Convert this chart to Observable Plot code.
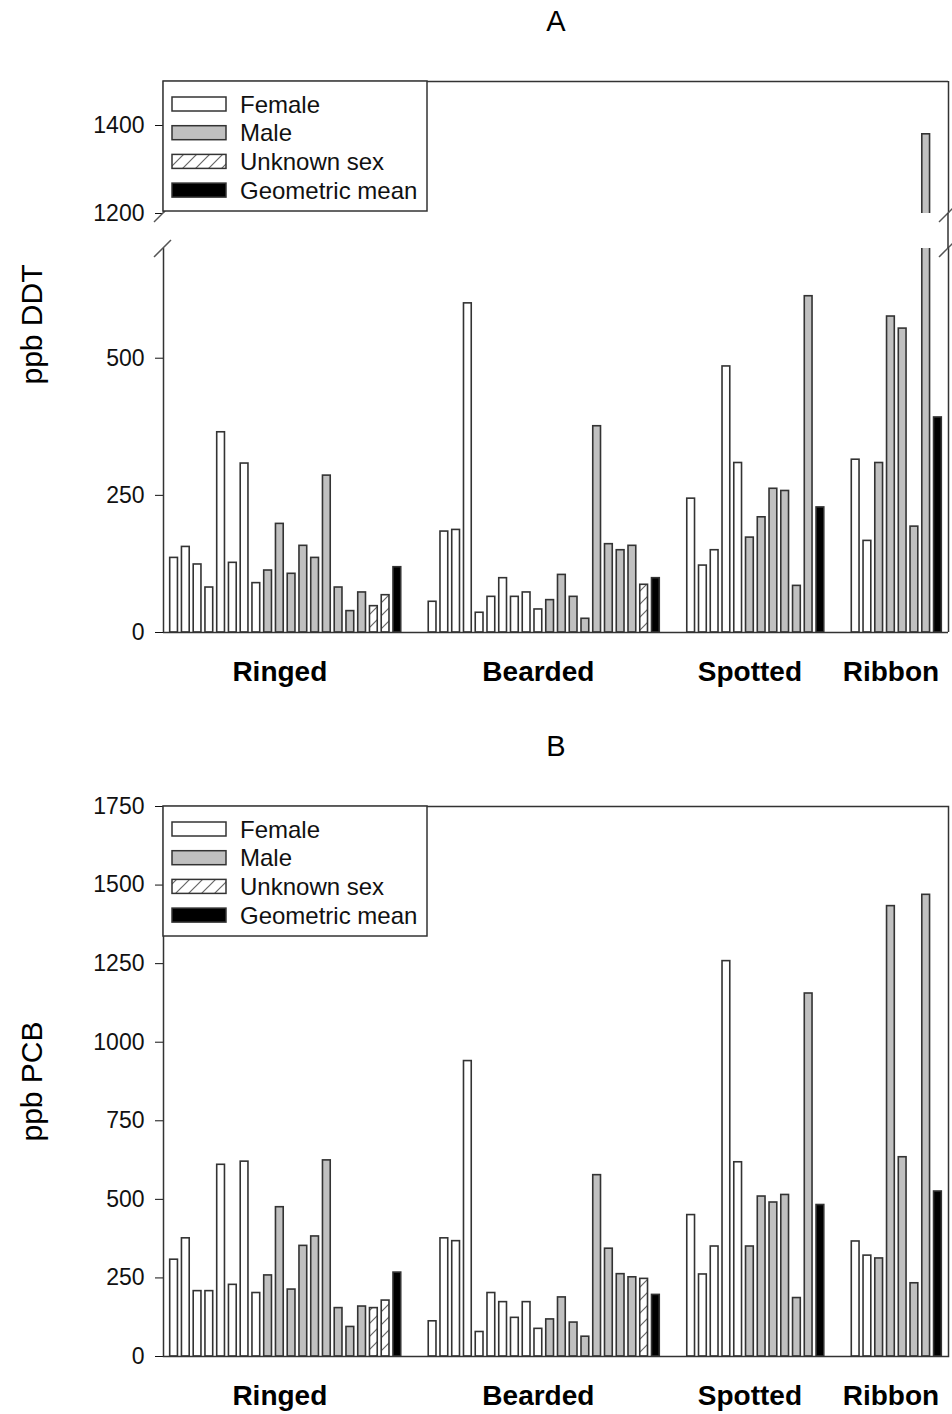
<!DOCTYPE html>
<html>
<head>
<meta charset="utf-8">
<script src="https://cdn.jsdelivr.net/npm/d3@7"></script>
<script src="https://cdn.jsdelivr.net/npm/@observablehq/plot@0.6"></script>
<style>
html, body { margin: 0; padding: 0; background: #fff; overflow: hidden; }
#chart svg { display: block; }
</style>
</head>
<body>
<div id="chart"></div>
<script>
// ---------------- data ----------------
const species = ["Ringed", "Bearded", "Spotted", "Ribbon"];

// sex codes: F = female, M = male, U = unknown sex, G = geometric mean
const sexRinged  = ["F","F","F","F","F","F","F","F","M","M","M","M","M","M","M","M","M","U","U","G"];
const sexBearded = ["F","F","F","F","F","F","F","F","F","F","M","M","M","M","M","M","M","M","U","G"];
const sexSpotted = ["F","F","F","F","F","M","M","M","M","M","M","G"];
const sexRibbon  = ["F","F","M","M","M","M","M","G"];

const ddtRinged  = [136,156,124,82,365,127,308,90,113,198,107,158,136,286,82,39,73,48,68,119];
const ddtBearded = [56,184,187,600,36,65,99,65,73,42,59,105,65,25,376,161,150,158,87,99];
const ddtSpotted = [244,122,150,485,309,173,210,262,258,85,613,228];
const ddtRibbon  = [315,167,309,576,554,193,1380,392];

const pcbRinged  = [308,376,208,208,610,228,620,202,258,475,213,352,382,624,154,94,159,154,178,267];
const pcbBearded = [112,376,367,940,78,202,173,123,173,88,118,188,108,63,577,343,262,252,247,196];
const pcbSpotted = [450,261,350,1258,618,350,509,490,514,186,1155,482];
const pcbRibbon  = [366,321,312,1433,634,233,1469,525];

const legendCodes  = ["F", "M", "U", "G"];
const legendLabels = ["Female", "Male", "Unknown sex", "Geometric mean"];

// DDT axis is broken between 700 and 1200
const ddtUpperDomain = [1200, 1500];
const ddtUpperTicks  = [1200, 1400];
const ddtLowerDomain = [0, 700];
const ddtLowerTicks  = [0, 250, 500];
const pcbDomain = [0, 1750];
const pcbTicks  = [0, 250, 500, 750, 1000, 1250, 1500, 1750];

// ---------------- helpers ----------------
const GAP = 2; // empty slots between species groups
const sexLists = [sexRinged, sexBearded, sexSpotted, sexRibbon];

function buildRows(valueLists) {
  const rows = [], labels = [];
  let slot = 0;
  species.forEach((sp, g) => {
    sexLists[g].forEach((s, i) => {
      rows.push({species: sp, sex: s, value: valueLists[g][i], slot});
      slot++;
    });
    const indiv = rows.filter(r => r.species === sp && r.sex !== "G");
    labels.push({species: sp, x: d3.mean(indiv, r => r.slot)});
    slot += GAP;
  });
  return {rows, labels, last: slot - GAP - 1};
}

const FONT = '"Liberation Sans", Arial, Helvetica, sans-serif';
const INK = "#333";

function makePlot(cfg) {
  const {rows, labels, last} = buildRows(cfg.values);
  const xmin = -0.9, xmax = last + 0.9;
  const hatchId = "hatch" + cfg.id;
  const fillOf = {F: "#ffffff", M: "#c0c0c0", U: `url(#${hatchId})`, G: "#000000"};
  const half = 0.33;

  const defs = () => {
    const g = d3.create("svg:g");
    const T = 13;
    const p = g.append("defs").append("pattern")
      .attr("id", hatchId).attr("patternUnits", "userSpaceOnUse")
      .attr("width", T).attr("height", T);
    p.append("rect").attr("width", T).attr("height", T).attr("fill", "#fff");
    p.append("path").attr("d", `M-3,3L3,-3M0,${T}L${T},0M${T - 3},${T + 3}L${T + 3},${T - 3}`)
      .attr("stroke", "#666").attr("stroke-width", 1.2).attr("fill", "none");
    return g.node();
  };

  const legend = (index, scales, values, dims) => {
    const ml = dims.marginLeft, mt = dims.marginTop;
    const g = d3.create("svg:g").attr("text-anchor", "start");
    g.append("rect").attr("x", ml).attr("y", mt).attr("width", 264).attr("height", 130)
      .attr("fill", "#fff").attr("stroke", INK).attr("stroke-width", 1.5);
    legendCodes.forEach((c, i) => {
      const cy = mt + 23 + i * 28.7;
      g.append("rect").attr("x", ml + 9).attr("y", cy - 7).attr("width", 54).attr("height", 14)
        .attr("fill", fillOf[c]).attr("stroke", INK).attr("stroke-width", 1.5);
      g.append("text").attr("x", ml + 77).attr("y", cy).attr("dy", "0.36em")
        .attr("text-anchor", "start")
        .attr("font-size", 24).attr("font-family", FONT).attr("fill", "#111")
        .text(legendLabels[i]);
    });
    return g.node();
  };

  // break marks ("/") and the continuation of the right frame line through the gap
  const breaks = (index, scales, values, dims) => {
    const g = d3.create("svg:g").attr("stroke", "#555").attr("stroke-width", 1.5).attr("fill", "none");
    const left = dims.marginLeft, right = dims.width - dims.marginRight;
    const py = cfg.breakAt === "bottom" ? dims.height - dims.marginBottom : dims.marginTop;
    for (const px of [left, right]) {
      g.append("line").attr("x1", px - 9).attr("y1", py + 9).attr("x2", px + 8).attr("y2", py - 8);
    }
    const ey = cfg.breakAt === "bottom" ? dims.height : 0;
    g.append("line").attr("stroke", INK).attr("x1", right).attr("x2", right).attr("y1", py).attr("y2", ey);
    return g.node();
  };

  const marks = [defs];
  marks.push(Plot.rect(rows, {
    x1: d => d.slot - half, x2: d => d.slot + half,
    y1: d => 0, y2: d => d.value,
    fill: d => fillOf[d.sex], stroke: INK, strokeWidth: 1.6,
    clip: cfg.breakAt ? true : false
  }));

  if (cfg.breakAt) {
    const [d0, d1] = cfg.domain;
    marks.push(Plot.ruleX([xmin, xmax], {stroke: INK, strokeWidth: 1.5}));
    marks.push(Plot.ruleY([cfg.breakAt === "bottom" ? d1 : d0], {stroke: INK, strokeWidth: 1.5}));
    marks.push(breaks);
  } else {
    marks.push(Plot.frame({stroke: INK, strokeWidth: 1.5}));
  }

  if (cfg.legend) marks.push(legend);
  if (cfg.title) marks.push(Plot.text([cfg.title], {frameAnchor: "top", textAnchor: "middle", lineAnchor: "middle", dy: -59.6, fontSize: 29, fill: "#000"}));
  if (cfg.yLabel) marks.push(Plot.text([cfg.yLabel], {frameAnchor: "left", textAnchor: "middle", lineAnchor: "middle", rotate: -90, dx: -131, dy: cfg.yLabelDy, fontSize: 30, fill: "#000"}));
  if (cfg.categories) marks.push(Plot.text(labels, {x: "x", text: "species", frameAnchor: "bottom", textAnchor: "middle", lineAnchor: "middle", dy: 40, fontSize: 28, fontWeight: "bold", fill: "#000"}));

  return Plot.plot({
    width: 952,
    height: cfg.height,
    marginLeft: 163,
    marginRight: 4,
    marginTop: cfg.marginTop,
    marginBottom: cfg.marginBottom,
    style: {fontFamily: FONT, fontSize: "23px", color: "#111", background: "#fff", overflow: "visible"},
    x: {axis: null, domain: [xmin, xmax]},
    y: {domain: cfg.domain, ticks: cfg.ticks, tickSize: 8, tickPadding: 11, tickFormat: d => String(d), label: null},
    color: {type: "identity"},
    marks
  });
}

const ddtValues = [ddtRinged, ddtBearded, ddtSpotted, ddtRibbon];
const pcbValues = [pcbRinged, pcbBearded, pcbSpotted, pcbRibbon];

const chart = document.getElementById("chart");
// Panel A, upper segment (1200–1500)
chart.append(makePlot({
  id: "A1", title: "A", legend: true, values: ddtValues,
  domain: ddtUpperDomain, ticks: ddtUpperTicks, breakAt: "bottom",
  height: 230, marginTop: 81, marginBottom: 17
}));
// Panel A, lower segment (0–700)
chart.append(makePlot({
  id: "A2", yLabel: "ppb DDT", yLabelDy: -116, categories: true, values: ddtValues,
  domain: ddtLowerDomain, ticks: ddtLowerTicks, breakAt: "top",
  height: 475, marginTop: 18, marginBottom: 73
}));
// Panel B
chart.append(makePlot({
  id: "B", title: "B", legend: true, yLabel: "ppb PCB", yLabelDy: 0, categories: true, values: pcbValues,
  domain: pcbDomain, ticks: pcbTicks,
  height: 709, marginTop: 101, marginBottom: 58
}));
</script>
</body>
</html>
